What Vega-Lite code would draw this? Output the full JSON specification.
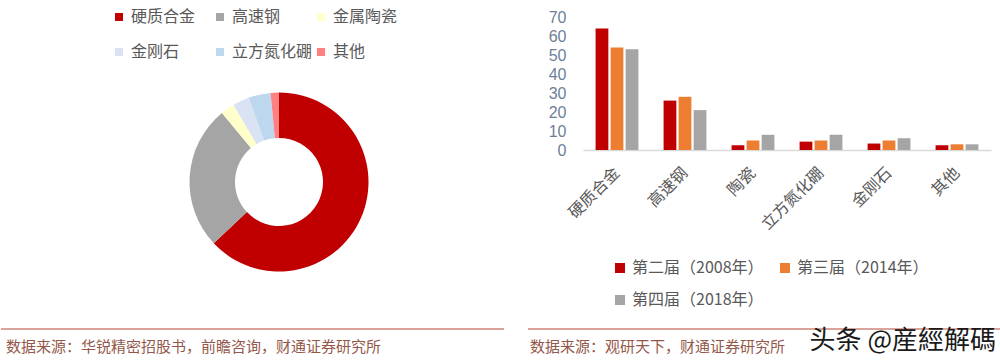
{
  "$schema": "https://vega.github.io/schema/vega-lite/v6.json",
  "background": "white",
  "padding": {"left": 0, "top": 9, "right": 0, "bottom": 0},
  "config": {"view": {"stroke": null}, "font": "Noto Sans CJK SC"},
  "datasets": {
    "pie": [
      {"材料": "硬质合金", "idx": 1, "share": 63},
      {"材料": "高速钢", "idx": 2, "share": 26},
      {"材料": "金属陶瓷", "idx": 3, "share": 2.5},
      {"材料": "金刚石", "idx": 4, "share": 3},
      {"材料": "立方氮化硼", "idx": 5, "share": 4},
      {"材料": "其他", "idx": 6, "share": 1.5}
    ],
    "bars": [
      {"类别": "硬质合金", "届": "第二届（2008年）", "值": 64},
      {"类别": "硬质合金", "届": "第三届（2014年）", "值": 54},
      {"类别": "硬质合金", "届": "第四届（2018年）", "值": 53},
      {"类别": "高速钢", "届": "第二届（2008年）", "值": 26},
      {"类别": "高速钢", "届": "第三届（2014年）", "值": 28},
      {"类别": "高速钢", "届": "第四届（2018年）", "值": 21},
      {"类别": "陶瓷", "届": "第二届（2008年）", "值": 2.5},
      {"类别": "陶瓷", "届": "第三届（2014年）", "值": 5},
      {"类别": "陶瓷", "届": "第四届（2018年）", "值": 8},
      {"类别": "立方氮化硼", "届": "第二届（2008年）", "值": 4.4},
      {"类别": "立方氮化硼", "届": "第三届（2014年）", "值": 5},
      {"类别": "立方氮化硼", "届": "第四届（2018年）", "值": 8},
      {"类别": "金刚石", "届": "第二届（2008年）", "值": 3.4},
      {"类别": "金刚石", "届": "第三届（2014年）", "值": 5},
      {"类别": "金刚石", "届": "第四届（2018年）", "值": 6.2},
      {"类别": "其他", "届": "第二届（2008年）", "值": 2.5},
      {"类别": "其他", "届": "第三届（2014年）", "值": 3},
      {"类别": "其他", "届": "第四届（2018年）", "值": 3}
    ]
  },
  "spacing": 0,
  "vconcat": [
    {
      "spacing": -9,
      "resolve": {"scale": {"color": "independent"}, "legend": {"color": "independent"}},
      "hconcat": [
        {
          "width": 556,
          "height": 311,
          "data": {"name": "pie"},
          "mark": {"type": "arc", "outerRadius": 89.5, "innerRadius": 44, "yOffset": 9.5},
          "encoding": {
            "theta": {"field": "share", "type": "quantitative", "stack": true},
            "order": {"field": "idx", "type": "quantitative"},
            "color": {
              "field": "材料",
              "type": "nominal",
              "scale": {
                "domain": ["硬质合金", "高速钢", "金属陶瓷", "金刚石", "立方氮化硼", "其他"],
                "range": ["#C00000", "#A5A5A5", "#FFFFCC", "#DAE3F3", "#BDD7EE", "#FF8080"]
              },
              "legend": {
                "orient": "none",
                "legendX": 110,
                "legendY": -8,
                "columns": 3,
                "gridAlign": "all",
                "direction": "horizontal",
                "title": null,
                "symbolType": "square",
                "symbolSize": 64,
                "symbolStrokeWidth": 0,
                "labelFontSize": 16,
                "labelColor": "#595959",
                "labelOffset": 4,
                "columnPadding": 0,
                "rowPadding": 19,
                "padding": 0
              }
            }
          }
        },
        {
          "width": 408,
          "height": 133,
          "data": {"name": "bars"},
          "mark": {"type": "bar"},
          "encoding": {
            "x": {
              "field": "类别",
              "type": "nominal",
              "sort": null,
              "scale": {"paddingInner": 0.37, "paddingOuter": 0.185},
              "axis": {
                "title": null,
                "labelAngle": -45,
                "labelAlign": "right",
                "labelBaseline": "middle",
                "labelFontSize": 16,
                "labelColor": "#595959",
                "domainColor": "#D9D9D9",
                "domainWidth": 1.5,
                "ticks": false,
                "labelPadding": 20
              }
            },
            "xOffset": {"field": "届", "type": "nominal", "sort": null, "scale": {"paddingInner": 0.15}},
            "y": {
              "field": "值",
              "type": "quantitative",
              "scale": {"domain": [0, 70]},
              "axis": {
                "title": null,
                "values": [0, 10, 20, 30, 40, 50, 60, 70],
                "grid": false,
                "domain": false,
                "ticks": false,
                "labelFontSize": 16,
                "labelFont": "Liberation Sans",
                "labelColor": "#6D7F99",
                "labelPadding": 17
              }
            },
            "color": {
              "field": "届",
              "type": "nominal",
              "scale": {
                "domain": ["第二届（2008年）", "第三届（2014年）", "第四届（2018年）"],
                "range": ["#C00000", "#ED7D31", "#A5A5A5"]
              },
              "legend": {
                "orient": "none",
                "legendX": 29,
                "legendY": 243,
                "columns": 2,
                "direction": "horizontal",
                "title": null,
                "symbolType": "square",
                "symbolSize": 100,
                "symbolStrokeWidth": 0,
                "labelFontSize": 16,
                "labelColor": "#595959",
                "labelOffset": 4,
                "labelLimit": 300,
                "columnPadding": 13,
                "rowPadding": 16,
                "padding": 0
              }
            }
          }
        }
      ]
    },
    {
      "spacing": 22,
      "hconcat": [
        {
          "width": 503,
          "height": 18,
          "layer": [
            {
              "data": {"values": [{"a": 0, "b": 1, "y": 1}]},
              "mark": {"type": "rule", "color": "#B5483A", "strokeWidth": 1.2},
              "encoding": {
                "x": {"field": "a", "type": "quantitative", "scale": {"domain": [0, 1]}, "axis": null},
                "x2": {"field": "b"},
                "y": {"field": "y", "type": "quantitative", "scale": {"domain": [0, 1]}, "axis": null}
              }
            },
            {
              "data": {"values": [{"x": 0, "y": 0, "t": "数据来源：华锐精密招股书，前瞻咨询，财通证券研究所"}]},
              "mark": {"type": "text", "align": "left", "baseline": "middle", "fontSize": 15, "color": "#94584A", "dx": 5},
              "encoding": {
                "x": {"field": "x", "type": "quantitative", "scale": {"domain": [0, 1]}, "axis": null},
                "y": {"field": "y", "type": "quantitative", "scale": {"domain": [0, 1]}, "axis": null},
                "text": {"field": "t"}
              }
            }
          ]
        },
        {
          "width": 475,
          "height": 18,
          "layer": [
            {
              "data": {"values": [{"a": 0, "b": 1, "y": 1}]},
              "mark": {"type": "rule", "color": "#B5483A", "strokeWidth": 1.2},
              "encoding": {
                "x": {"field": "a", "type": "quantitative", "scale": {"domain": [0, 1]}, "axis": null},
                "x2": {"field": "b"},
                "y": {"field": "y", "type": "quantitative", "scale": {"domain": [0, 1]}, "axis": null}
              }
            },
            {
              "data": {"values": [{"x": 0, "y": 0, "t": "数据来源：观研天下，财通证券研究所"}]},
              "mark": {"type": "text", "align": "left", "baseline": "middle", "fontSize": 15, "color": "#94584A", "dx": 2},
              "encoding": {
                "x": {"field": "x", "type": "quantitative", "scale": {"domain": [0, 1]}, "axis": null},
                "y": {"field": "y", "type": "quantitative", "scale": {"domain": [0, 1]}, "axis": null},
                "text": {"field": "t"}
              }
            },
            {
              "data": {"values": [{"x": 1, "y": 0.32, "t": "头条 @産經解碼"}]},
              "mark": {"type": "text", "align": "right", "baseline": "middle", "fontSize": 26, "color": "#1A1A1A", "dx": -7},
              "encoding": {
                "x": {"field": "x", "type": "quantitative", "scale": {"domain": [0, 1]}, "axis": null},
                "y": {"field": "y", "type": "quantitative", "scale": {"domain": [0, 1]}, "axis": null},
                "text": {"field": "t"}
              }
            }
          ]
        }
      ]
    }
  ]
}
